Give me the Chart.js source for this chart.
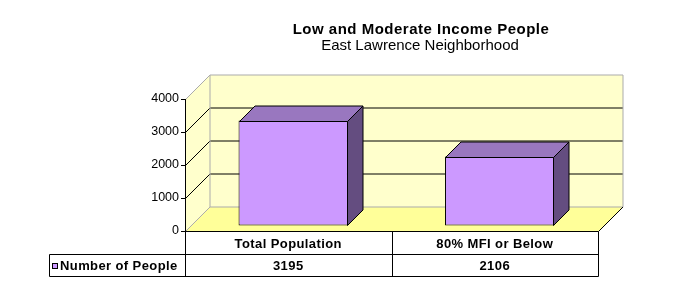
<!DOCTYPE html>
<html>
<head>
<meta charset="utf-8">
<script src="https://cdn.jsdelivr.net/npm/chart.js@4.4.1/dist/chart.umd.min.js"></script>
<style>
html,body{margin:0;padding:0;background:#fff;}
#chart{display:block;}
</style>
</head>
<body>
<canvas id="chart" width="677" height="292"></canvas>
<script>
const categories = ["Total Population", "80% MFI or Below"];
const seriesName = "Number of People";
const peopleCounts = [3195, 2106];
const yTicks = [0, 1000, 2000, 3000, 4000];
const chartTitle = "Low and Moderate Income People";
const chartSubtitle = "East Lawrence Neighborhood";

const DEPTH = 24.5;     // depth of the walls/floor
const BAR_SHIFT = 5;    // bars sit a bit behind the front plane
const BAR_DEPTH = 15.5; // depth of each bar
const FONT = '"Liberation Sans", Arial, sans-serif';

function poly(ctx, pts, fill, stroke){
  ctx.beginPath();
  ctx.moveTo(pts[0][0], pts[0][1]);
  for(let i=1;i<pts.length;i++) ctx.lineTo(pts[i][0], pts[i][1]);
  ctx.closePath();
  if(fill){ ctx.fillStyle = fill; ctx.fill(); }
  if(stroke){ ctx.strokeStyle = stroke; ctx.lineWidth = 1; ctx.stroke(); }
}
function line(ctx, pts, color){
  ctx.beginPath();
  ctx.moveTo(pts[0][0], pts[0][1]);
  for(let i=1;i<pts.length;i++) ctx.lineTo(pts[i][0], pts[i][1]);
  ctx.strokeStyle = color; ctx.lineWidth = 1; ctx.stroke();
}

const excel3d = {
  id: 'excel3d',
  beforeDraw(chart){
    const {ctx, chartArea:a, scales:{y}} = chart;
    const L=a.left+0.5, R=a.right+0.5, T=a.top+0.5, B=a.bottom+0.5, d=DEPTH;
    ctx.save();
    //walls and floor
    poly(ctx, [[L,T],[L+d,T-d],[L+d,B-d],[L,B]], '#FFFFCC');
    poly(ctx, [[L+d,T-d],[R+d,T-d],[R+d,B-d],[L+d,B-d]], '#FFFFCC');
    poly(ctx, [[L,B],[L+d,B-d],[R+d,B-d],[R,B]], '#FFFF99');
    //grid lines on side + back wall
    yTicks.forEach(v => {
      const py = Math.round(y.getPixelForValue(v))+0.5;
      const edge = (v===yTicks[0] || v===yTicks[yTicks.length-1]);
      line(ctx, [[L,py],[L+d,py-d],[R+d,py-d]], edge ? '#ABABAB' : '#000');
    });
    line(ctx, [[L+d,T-d],[L+d,B-d]], '#ABABAB');
    line(ctx, [[R+d,T-d],[R+d,B-d]], '#ABABAB');
    line(ctx, [[R,B],[R+d,B-d]], '#000');
    ctx.restore();

    //title
    ctx.save();
    ctx.fillStyle = '#000';
    ctx.textAlign = 'center';
    ctx.textBaseline = 'alphabetic';
    ctx.font = 'bold 15px ' + FONT;
    ctx.letterSpacing = '0.5px';
    ctx.fillText(chartTitle, 421, 34);
    ctx.letterSpacing = '0px';
    ctx.font = '15px ' + FONT;
    ctx.fillText(chartSubtitle, 420, 50);
    ctx.restore();
  },
  beforeDatasetsDraw(chart){
    chart.ctx.save();
    chart.ctx.translate(BAR_SHIFT, -BAR_SHIFT);
  },
  afterDatasetsDraw(chart){
    const ctx = chart.ctx;
    const bd = BAR_DEPTH;
    chart.getDatasetMeta(0).data.forEach(el => {
      const {x, y, base, width} = el.getProps(['x','y','base','width'], true);
      const l = Math.round(x - width/2)+0.5, r = Math.round(x + width/2)-0.5;
      const t = Math.round(y)+0.5, b = Math.round(base)-0.5;
      poly(ctx, [[l,t],[l+bd,t-bd],[r+bd,t-bd],[r,t]], '#9977BF', '#000');
      poly(ctx, [[r,t],[r+bd,t-bd],[r+bd,b-bd],[r,b]], '#644D80', '#000');
    });
    ctx.restore();
  },
  afterDraw(chart){
    const {ctx, chartArea:a, scales:{x}} = chart;
    const L=a.left+0.5, R=a.right+0.5, B=a.bottom+0.5;
    const row1 = B + 23, row2 = B + 45, legendLeft = 49.5;
    const mid = Math.round((x.getPixelForValue(0)+x.getPixelForValue(1))/2)+0.5;
    ctx.save();
    line(ctx, [[L,B],[R,B]], '#000');
    line(ctx, [[legendLeft,row1],[R,row1]], '#000');
    line(ctx, [[legendLeft,row2],[R,row2]], '#000');
    line(ctx, [[legendLeft,row1],[legendLeft,row2]], '#000');
    line(ctx, [[L,B],[L,row2]], '#000');
    line(ctx, [[mid,B],[mid,row2]], '#000');
    line(ctx, [[R,B],[R,row2]], '#000');

    ctx.fillStyle = '#000';
    ctx.font = 'bold 13px ' + FONT;
    ctx.letterSpacing = '0.4px';
    ctx.textBaseline = 'middle';
    ctx.textAlign = 'center';
    categories.forEach((c,i) => {
      const cx = x.getPixelForValue(i);
      ctx.fillText(c, cx, (B+row1)/2+1);
      ctx.fillText(String(peopleCounts[i]), cx, (row1+row2)/2+1);
    });
    //legend key
    ctx.fillStyle = '#CC99FF';
    ctx.fillRect(52, 263, 6, 6);
    ctx.strokeStyle = '#000';
    ctx.strokeRect(52.5, 263.5, 5, 5);
    ctx.fillStyle = '#000';
    ctx.textAlign = 'left';
    ctx.fillText(seriesName, 60, (row1+row2)/2+1);
    ctx.restore();
  }
};

new Chart(document.getElementById('chart'), {
  type: 'bar',
  data: {
    labels: categories,
    datasets: [{
      label: seriesName,
      data: peopleCounts,
      backgroundColor: '#CC99FF',
      borderColor: '#000',
      borderWidth: 1,
      borderSkipped: false,
      barPercentage: 0.53,
      categoryPercentage: 1,
      clip: false
    }]
  },
  options: {
    responsive: false,
    animation: false,
    events: [],
    layout: { padding: { left: 145, right: 79, top: 99, bottom: 61 } },
    plugins: { legend: { display: false }, title: { display: false }, tooltip: { enabled: false } },
    scales: {
      x: { display: false },
      y: {
        min: yTicks[0],
        max: yTicks[yTicks.length-1],
        ticks: {
          stepSize: yTicks[1]-yTicks[0],
          color: '#000',
          padding: 2,
          font: { family: FONT, size: 12.5 },
          callback: v => String(v)
        },
        grid: { drawOnChartArea: false, drawTicks: true, tickLength: 4, color: '#000' },
        border: { display: true, color: '#000' },
        afterFit(s){ s.width = 40; }
      }
    }
  },
  plugins: [excel3d]
});
</script>
</body>
</html>
